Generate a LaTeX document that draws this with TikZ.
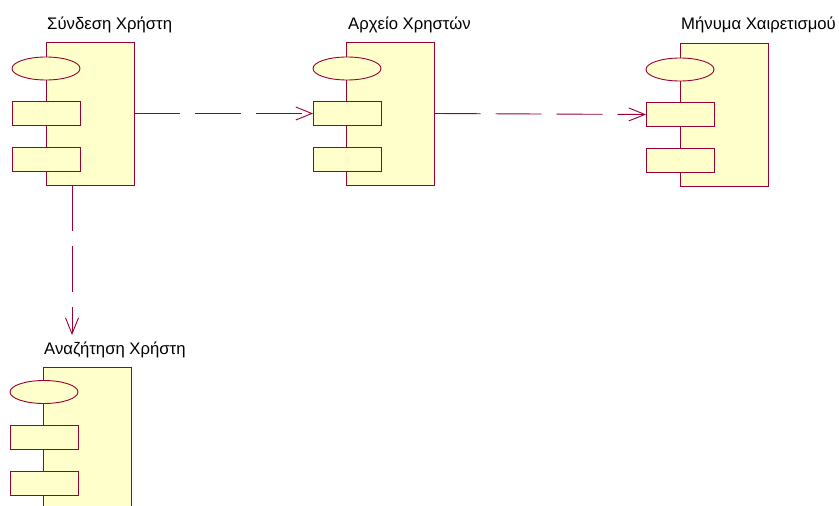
\documentclass[tikz,border=0pt]{standalone}
\usepackage{fontspec}
\setmainfont{Liberation Sans}
\usetikzlibrary{arrows.meta,calc,shapes.geometric}
\definecolor{umlline}{HTML}{990033}
\definecolor{umlfill}{HTML}{FFFFCC}
\tikzset{
  compbox/.style={draw=umlline, fill=umlfill, line width=0.9pt, minimum width=88pt, minimum height=143pt, inner sep=0pt, outer sep=0pt},
  compell/.style={draw=umlline, fill=umlfill, line width=0.9pt, ellipse, minimum width=68pt, minimum height=23pt, inner sep=0pt, outer sep=0pt},
  comprect/.style={draw=umlline, fill=umlfill, line width=0.9pt, minimum width=68pt, minimum height=24pt, inner sep=0pt, outer sep=0pt},
  complabel/.style={anchor=base west, inner sep=0pt, font=\fontsize{16.7}{19}\selectfont},
  dep/.style={draw=umlline, line width=0.9pt, dash pattern=on 46pt off 15pt, -{Straight Barb[length=16pt,width=13pt,line width=0.9pt]}},
}
\begin{document}
\begin{tikzpicture}[x=1pt,y=-1pt]
\useasboundingbox (0,0) rectangle (839,506);
\clip (0,0) rectangle (839,506);
% component 1
\node[compbox] (c1) at (90,113.5) {};
\node[compell] (c1e) at (46,68.5) {};
\node[comprect] (c1a) at (46,113.5) {};
\node[comprect] (c1b) at (46,159.5) {};
\node[complabel] (c1l) at (47,29) {Σύνδεση Χρήστη};
% component 2
\node[compbox] (c2) at (390.5,113.5) {};
\node[compell] (c2e) at (347,68.5) {};
\node[comprect] (c2a) at (347,113.5) {};
\node[comprect] (c2b) at (347,159.5) {};
\node[complabel] (c2l) at (348,29) {Αρχείο Χρηστών};
% component 3
\node[compbox] (c3) at (724,114.5) {};
\node[compell] (c3e) at (680,69.5) {};
\node[comprect] (c3a) at (680,114.5) {};
\node[comprect] (c3b) at (680,160.5) {};
\node[complabel] (c3l) at (681,29) {Μήνυμα Χαιρετισμού};
% component 4
\node[compbox] (c4) at (87.5,438.5) {};
\node[compell] (c4e) at (44,392) {};
\node[comprect] (c4a) at (44,437.5) {};
\node[comprect] (c4b) at (44,483.5) {};
\node[complabel] (c4l) at (44,354) {Αναζήτηση Χρήστη};
% dependencies
\draw[dep] (c1.east) -- (c2a.west);
\draw[dep] (c2.east |- c2a.west) -- (c3a.west);
\coordinate (c1s) at (72,185);
\coordinate (c4t) at (72,335);
\draw[dep] (c1s) -- (c4t);
\end{tikzpicture}
\end{document}
